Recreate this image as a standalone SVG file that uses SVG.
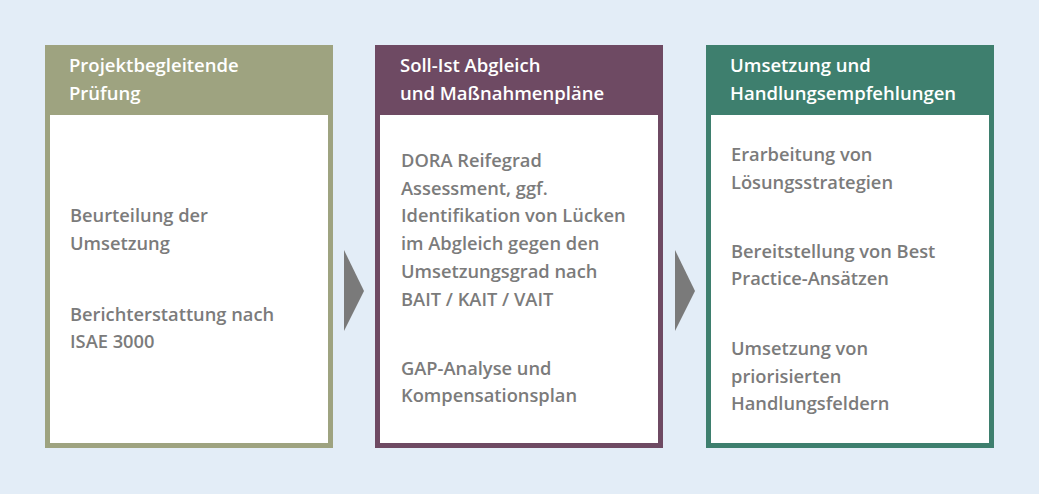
<svg xmlns="http://www.w3.org/2000/svg" width="1039" height="494" viewBox="0 0 1039 494">
<style>
.frame{fill:#ffffff;stroke-width:5}
.hd{font-family:"Open Sans","Liberation Sans",sans-serif;font-weight:600;font-size:18.5px;fill:#ffffff}
.tx{font-family:"Open Sans","Liberation Sans",sans-serif;font-weight:600;font-size:18.3px;fill:#7b7b7b}
.arr{fill:#7a7a7a}
</style>
<rect width="1039" height="494" fill="#e3edf7"/>
<g id="node1">
<rect x="47.5" y="47.5" width="283" height="398" class="frame" stroke="#9ea380"/>
<rect x="45" y="45" width="288" height="70" fill="#9ea380"/>
<text class="hd" x="69" y="72">Projektbegleitende</text>
<text class="hd" x="69" y="100">Prüfung</text>
<text class="tx" x="70" y="222">Beurteilung der</text>
<text class="tx" x="70" y="250">Umsetzung</text>
<text class="tx" x="70" y="321">Berichterstattung nach</text>
<text class="tx" x="70" y="348">ISAE 3000</text>
</g>
<g id="node2">
<rect x="377.5" y="47.5" width="283" height="398" class="frame" stroke="#6e4a63"/>
<rect x="375" y="45" width="288" height="70" fill="#6e4a63"/>
<text class="hd" x="400" y="72">Soll-Ist Abgleich</text>
<text class="hd" x="400" y="100">und Maßnahmenpläne</text>
<text class="tx" x="401" y="167">DORA Reifegrad</text>
<text class="tx" x="401" y="195">Assessment, ggf.</text>
<text class="tx" x="401" y="222">Identifikation von Lücken</text>
<text class="tx" x="401" y="250">im Abgleich gegen den</text>
<text class="tx" x="401" y="278">Umsetzungsgrad nach</text>
<text class="tx" x="401" y="306">BAIT / KAIT / VAIT</text>
<text class="tx" x="401" y="375">GAP-Analyse und</text>
<text class="tx" x="401" y="402">Kompensationsplan</text>
</g>
<g id="node3">
<rect x="708.5" y="47.5" width="283" height="398" class="frame" stroke="#3e7f6e"/>
<rect x="706" y="45" width="288" height="70" fill="#3e7f6e"/>
<text class="hd" x="730" y="72">Umsetzung und</text>
<text class="hd" x="730" y="100">Handlungsempfehlungen</text>
<text class="tx" x="731" y="161">Erarbeitung von</text>
<text class="tx" x="731" y="189">Lösungsstrategien</text>
<text class="tx" x="731" y="258">Bereitstellung von Best</text>
<text class="tx" x="731" y="285">Practice-Ansätzen</text>
<text class="tx" x="731" y="355">Umsetzung von</text>
<text class="tx" x="731" y="383">priorisierten</text>
<text class="tx" x="731" y="410">Handlungsfeldern</text>
</g>
<g id="connectors">
<polygon class="arr" points="344,250 364,291 344,331"/>
<polygon class="arr" points="675,250 695,291 675,331"/>
</g>
</svg>
